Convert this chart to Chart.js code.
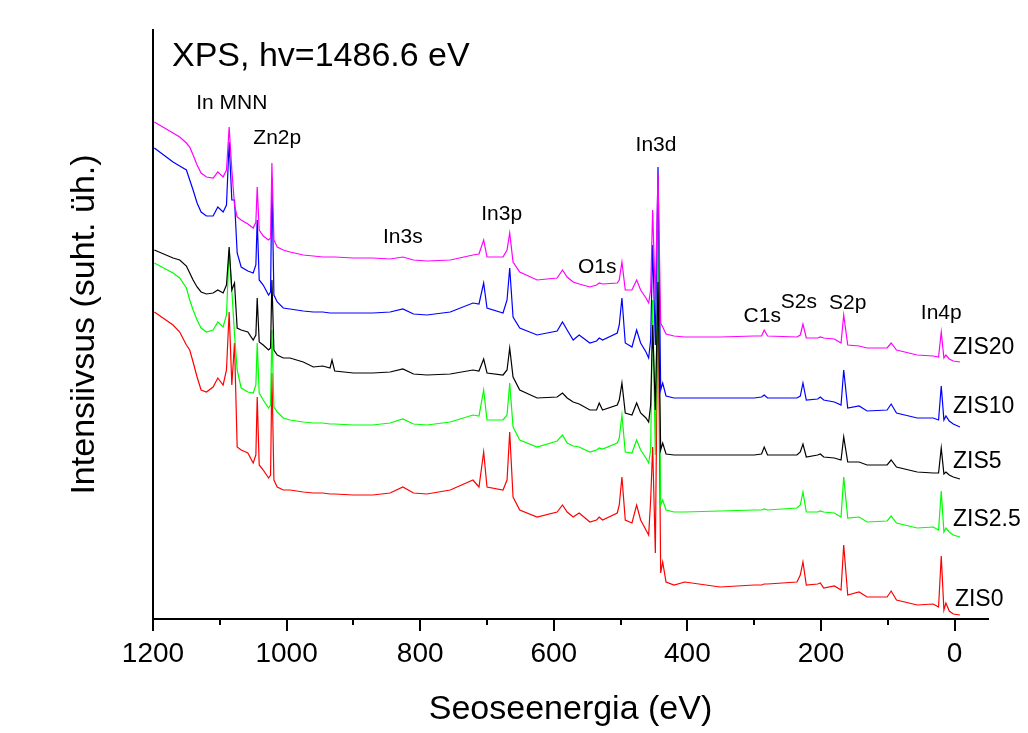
<!DOCTYPE html>
<html><head><meta charset="utf-8">
<script src="https://cdn.jsdelivr.net/npm/chart.js@4.4.0/dist/chart.umd.min.js"></script>
<style>html,body{margin:0;padding:0;background:#fff;}canvas{display:block;}</style>
</head><body>
<canvas id="c" width="1028" height="733"></canvas>
<script>
// Binding energy grid (eV)
const energy = [1198,1170,1160,1150,1145,1140,1134,1128,1120,1110,1103,1095,1090,1086,1082,1078,1074,1068,1058,1050,1046,1044,1041,1035,1027,1024,1022,1019,1014,1005,995,975,960,946,935,932,928,900,871,845,826,810,790,755,721,712,705,700,676,670,666,661,651,625,595,587,580,571,562,546,536,532,527,505,502,498,493,483,476,470,462,458,455,452,448,444,440,437,432,420,404,351,300,289,285,280,236,231,227,222,205,201,196,180,170,166,160,143,131,101,95,87,56,32,24,20,16,13,8,2,-8];

// Intensities (arb. units, stacked as in the figure)
const zis20 = [497,486,482,476,472,464,454,446,442,441,447,442,449,492,449,414,402,399,395,391,397,432,389,383,379,381,456,379,372,369,367,364,363,362,362,362,362,361,361,360,362,359,358,359,364,365,379,362,362,369,386,357,347,339,341,349,342,337,335,332,334,336,335,336,339,357,329,329,339,329,321,316,329,409,319,446,296,292,285,283,282,282,283,283,289,283,282,284,295,281,281,282,281,280,276,304,274,273,271,271,276,269,264,263,262,287,261,264,260,258,257];
const zis10 = [471,457,453,449,439,429,416,407,403,403,412,407,414,477,419,419,366,352,348,346,354,399,339,334,324,327,441,324,317,311,310,308,307,307,306,306,306,306,306,307,310,305,304,307,316,315,336,311,306,319,351,302,291,284,288,297,289,279,284,276,278,281,279,286,294,321,276,272,289,276,267,261,279,374,274,452,229,236,223,221,221,221,221,222,224,221,221,223,236,219,220,222,219,217,214,249,211,213,208,209,215,206,201,201,199,233,199,203,198,195,192];
const zis5 = [369,361,359,353,346,339,332,327,325,326,329,326,334,372,329,336,291,289,287,279,284,321,277,274,269,271,339,269,264,261,261,257,252,253,251,259,248,246,246,247,250,245,244,245,249,248,260,246,244,249,271,242,229,221,222,226,221,217,215,209,209,216,209,214,219,236,206,204,216,206,201,197,214,294,209,337,169,176,165,164,164,164,164,165,172,164,164,167,175,162,164,165,162,161,159,182,157,157,154,154,159,152,147,146,146,171,145,147,144,142,140];
const zis2_5 = [356,346,341,331,319,309,299,291,287,289,297,292,304,369,329,285,249,231,227,226,234,276,226,219,211,214,289,212,207,201,199,197,196,196,195,195,195,194,194,196,200,195,194,197,204,203,229,199,199,204,236,192,179,172,178,184,176,173,172,167,169,171,170,176,181,204,167,166,179,169,161,156,169,319,164,389,114,119,109,107,107,108,109,109,110,109,111,114,127,107,107,108,107,106,102,142,101,102,97,98,103,96,91,92,89,128,87,91,87,84,82];
const zis0 = [307,294,287,274,269,257,242,229,227,232,241,234,249,307,234,276,172,169,166,156,164,222,154,149,141,144,246,139,132,129,129,127,126,126,125,125,125,124,124,126,132,126,125,129,139,132,167,132,129,139,187,122,109,102,107,114,107,102,106,97,99,102,99,106,114,142,99,96,114,99,89,84,119,172,66,339,46,57,37,34,37,32,34,34,35,35,37,44,57,34,35,36,31,33,29,74,24,27,22,22,28,19,14,15,12,63,9,16,8,5,4];

const seriesNames = ['ZIS20','ZIS10','ZIS5','ZIS2.5','ZIS0'];
const seriesValues = [zis20, zis10, zis5, zis2_5, zis0];
const seriesColors = ['#ff00ff','#0000ff','#000000','#00ff00','#ff0000'];

// Label anchors in data coordinates [eV, intensity]
const peakNames = ['In MNN','Zn2p','In3s','In3p','O1s','In3d','C1s','S2s','S2p','In4p'];
const peakAnchorE = [1082,1014,826,678,535,447,288,233,160,20];
const peakAnchorI = [510,475,376,399,346,468,297,311,310,300];
const seriesLabelE = [2.4,2.4,2.4,2.4,-0.5];
const seriesLabelI = [265,206,151,93,13];
const plotTitle = 'XPS, hv=1486.6 eV';
const plotTitleAt = [1171.6, 553];

const FONT = '"Liberation Sans", Arial, sans-serif';

const annotPlugin = {
  id: 'annot',
  afterDraw(chart) {
    const {ctx} = chart;
    const xs = chart.scales.x, ys = chart.scales.y;
    ctx.save();
    ctx.fillStyle = '#000';
    ctx.textBaseline = 'alphabetic';
    ctx.font = '34px ' + FONT;
    ctx.textAlign = 'left';
    ctx.fillText(plotTitle, xs.getPixelForValue(plotTitleAt[0]), ys.getPixelForValue(plotTitleAt[1]));
    ctx.font = '21px ' + FONT;
    ctx.textAlign = 'center';
    peakNames.forEach((t, i) => {
      ctx.fillText(t, xs.getPixelForValue(peakAnchorE[i]), ys.getPixelForValue(peakAnchorI[i]));
    });
    ctx.font = '23px ' + FONT;
    ctx.textAlign = 'left';
    seriesNames.forEach((t, i) => {
      ctx.fillText(t, xs.getPixelForValue(seriesLabelE[i]), ys.getPixelForValue(seriesLabelI[i]));
    });
    // tick marks (major every 200, minor every 100)
    ctx.strokeStyle = '#000';
    ctx.lineWidth = 2;
    xs.ticks.forEach(t => {
      const px = Math.round(xs.getPixelForValue(t.value));
      const len = (t.value % 200 === 0) ? 12 : 6;
      ctx.beginPath();
      ctx.moveTo(px, xs.top);
      ctx.lineTo(px, xs.top + len);
      ctx.stroke();
    });
    ctx.restore();
  }
};

new Chart(document.getElementById('c'), {
  type: 'line',
  data: {
    datasets: seriesNames.map((n, k) => ({
      label: n,
      data: energy.map((e, i) => ({x: e, y: seriesValues[k][i]})),
      borderColor: seriesColors[k],
      backgroundColor: seriesColors[k],
      borderWidth: 1.2,
      pointRadius: 0,
      tension: 0,
      fill: false
    }))
  },
  options: {
    responsive: false,
    animation: false,
    devicePixelRatio: 1,
    layout: {padding: {top: 30, right: 40, left: 0, bottom: 0}},
    plugins: {legend: {display: false}, tooltip: {enabled: false}},
    scales: {
      x: {
        type: 'linear', reverse: true, min: -50, max: 1200,
        ticks: {stepSize: 100, includeBounds: false, autoSkip: false, maxRotation: 0, padding: 18,
          color: '#000', font: {size: 28, family: FONT},
          callback: v => (v % 200 === 0 ? String(v) : '')},
        grid: {display: false, drawTicks: false},
        border: {display: true, color: '#000', width: 2},
        title: {display: true, text: 'Seoseenergia (eV)', color: '#000', font: {size: 34, family: FONT}, padding: {top: 0, bottom: 3}},
        afterFit(s) { s.height = 114; }
      },
      y: {
        min: 0, max: 589,
        ticks: {display: false},
        grid: {display: false, drawTicks: false},
        border: {display: true, color: '#000', width: 2},
        title: {display: true, text: 'Intensiivsus (suht. üh.)', color: '#000', font: {size: 34, family: FONT}, padding: {top: 64, bottom: 0}},
        afterFit(s) { s.width = 153; }
      }
    }
  },
  plugins: [annotPlugin]
});
</script>
</body></html>
